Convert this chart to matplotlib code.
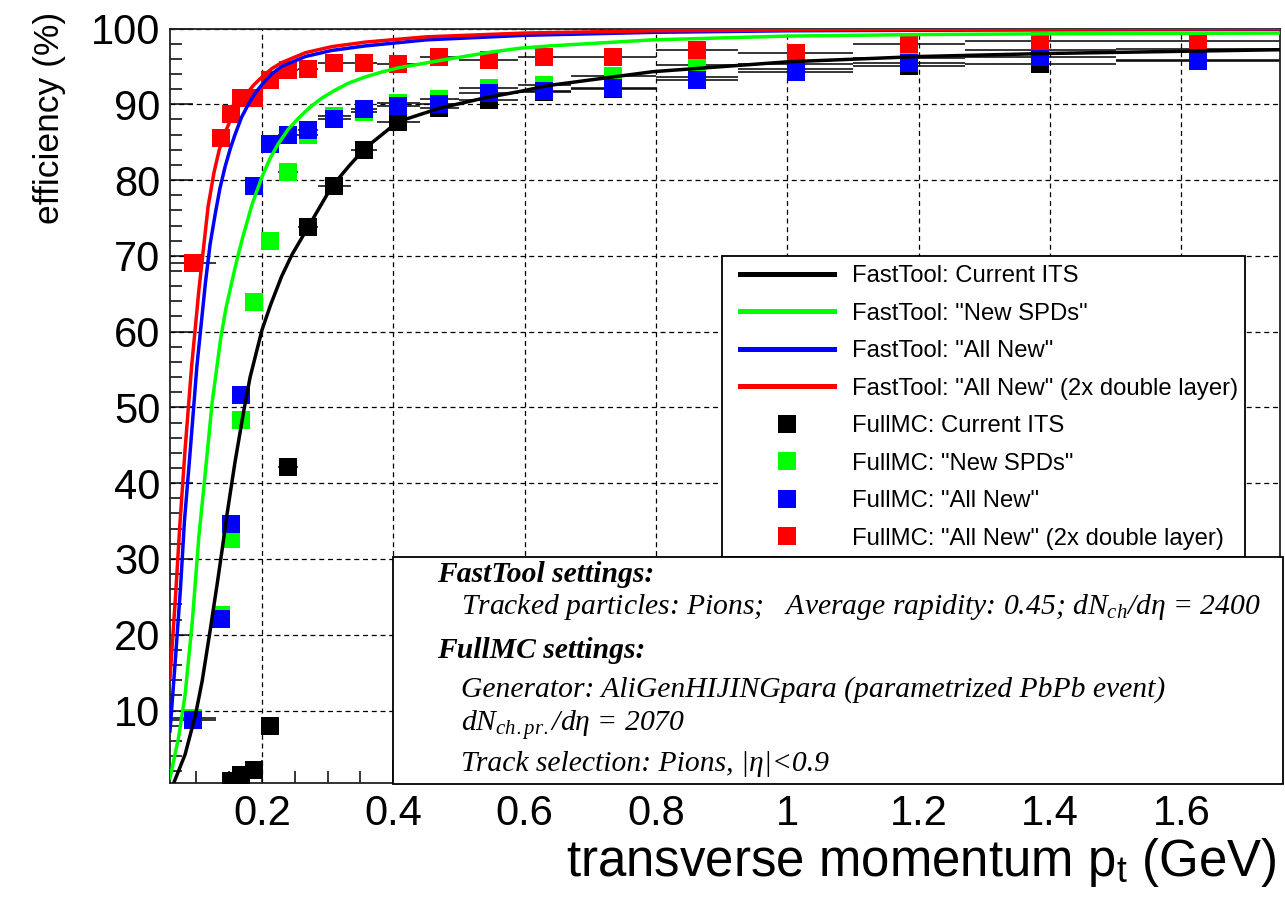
import numpy as np
import matplotlib
matplotlib.use("Agg")
import matplotlib.pyplot as plt
from matplotlib.lines import Line2D
from matplotlib.patches import Rectangle
from matplotlib.ticker import MultipleLocator, FixedLocator, FixedFormatter

plt.rcParams['font.family'] = ['Liberation Sans', 'DejaVu Sans']
plt.rcParams['mathtext.fontset'] = 'custom'
plt.rcParams['mathtext.rm'] = 'Liberation Sans'
plt.rcParams['mathtext.it'] = 'Liberation Serif:italic'
plt.rcParams['mathtext.bf'] = 'Liberation Serif:italic:bold'

# ---- FullMC: pt bins (GeV) and efficiencies (%) ----
bin_edges = [0.06, 0.13, 0.145, 0.16, 0.175, 0.2, 0.225, 0.255, 0.285, 0.335,
             0.375, 0.44, 0.5, 0.59, 0.67, 0.8, 0.925, 1.1, 1.27, 1.5, 1.75]

full_current = [np.nan, np.nan, 0.7, 1.5, 2.2, 8.0, 42.2, 73.8, 79.2, 84.0,
                87.7, 89.5, 90.5, 91.6, 92.0, 93.6, 94.6, 95.0, 95.3, 95.9]
full_newspd = [9.0, 22.6, 32.6, 48.4, 63.9, 71.9, 81.0, 86.0, 88.4, 89.0,
               90.2, 90.7, 92.1, 92.6, 93.7, 95.2, 95.3, 96.1, 97.2, 97.3]
full_allnew = [8.7, 22.1, 34.6, 51.7, 79.2, 84.8, 86.0, 86.6, 88.0, 89.4,
               89.8, 90.0, 91.5, 91.8, 92.2, 93.2, 94.3, 95.4, 96.2, 95.7]
full_double = [69.0, 85.5, 88.7, 90.8, 90.8, 93.2, 94.5, 94.6, 95.5, 95.5,
               95.3, 96.2, 95.9, 96.2, 96.2, 97.1, 96.8, 98.0, 98.4, 98.3]

# ---- FastTool: efficiency curves (pt in GeV, efficiency in %) ----
fast_current_pt = [0.066, 0.083, 0.099, 0.109, 0.121, 0.132, 0.139, 0.147, 0.159,
                   0.172, 0.182, 0.2, 0.213, 0.23, 0.246, 0.271, 0.306, 0.332,
                   0.357, 0.407, 0.471, 0.537, 0.593, 0.638, 0.795, 1.0, 1.2,
                   1.394, 1.75]
fast_current_eff = [0.5, 4.2, 9.5, 13.9, 20.5, 26.8, 31.0, 36.0, 42.8,
                    49.4, 54.0, 60.2, 63.5, 67.3, 70.2, 73.9, 79.1, 81.8,
                    84.2, 87.7, 89.5, 90.8, 91.7, 92.5, 94.3, 95.6, 96.3,
                    96.7, 97.2]

fast_newspd_pt = [0.06, 0.073, 0.083, 0.094, 0.104, 0.114, 0.124, 0.137, 0.145,
                  0.154, 0.162, 0.17, 0.185, 0.2, 0.212, 0.225, 0.24, 0.256,
                  0.273, 0.291, 0.31, 0.332, 0.357, 0.38, 0.407, 0.44, 0.486,
                  0.55, 0.593, 0.638, 0.795, 1.0, 1.2, 1.4, 1.75]
fast_newspd_eff = [1.1, 6.4, 12.1, 21.8, 33.0, 41.6, 50.5, 59.0, 63.0,
                   66.5, 69.5, 72.2, 76.8, 80.4, 82.8, 84.8, 86.7, 88.2,
                   89.6, 90.8, 91.8, 92.8, 93.6, 94.2, 94.8, 95.3, 96.0,
                   96.9, 97.4, 97.7, 98.5, 99.0, 99.2, 99.3, 99.4]

fast_allnew_pt = [0.06, 0.068, 0.076, 0.082, 0.091, 0.101, 0.114, 0.121, 0.129,
                  0.136, 0.144, 0.152, 0.159, 0.169, 0.18, 0.19, 0.2, 0.215,
                  0.23, 0.266, 0.306, 0.357, 0.45, 0.6, 0.8, 1.0, 1.3, 1.75]
fast_allnew_eff = [7.3, 16.5, 26.2, 35.0, 44.5, 55.5, 66.5, 71.5, 75.6,
                   78.9, 81.8, 84.2, 86.0, 88.3, 90.1, 91.5, 92.6, 94.0,
                   95.0, 96.3, 97.1, 97.7, 98.5, 99.1, 99.5, 99.7, 99.8, 99.9]

fast_double_pt = [0.06, 0.068, 0.075, 0.083, 0.093, 0.104, 0.118, 0.127, 0.135,
                  0.145, 0.154, 0.165, 0.175, 0.187, 0.2, 0.215, 0.23, 0.266,
                  0.306, 0.357, 0.45, 0.6, 0.8, 1.0, 1.3, 1.75]
fast_double_eff = [14.3, 24.5, 34.5, 44.5, 55.5, 65.5, 76.5, 81.0, 84.0,
                   86.5, 88.3, 90.0, 91.2, 92.5, 93.6, 94.7, 95.5, 96.8,
                   97.6, 98.2, 98.9, 99.4, 99.7, 99.8, 99.9, 99.95]

fast_labels = ['FastTool: Current ITS', 'FastTool: "New SPDs"',
               'FastTool: "All New"', 'FastTool: "All New" (2x double layer)']
full_labels = ['FullMC: Current ITS', 'FullMC: "New SPDs"',
               'FullMC: "All New"', 'FullMC: "All New" (2x double layer)']
colors = ['#000000', '#00ff00', '#0000ff', '#ff0000']

x_ticks = [0.2, 0.4, 0.6, 0.8, 1.0, 1.2, 1.4, 1.6]
x_ticklabels = ['0.2', '0.4', '0.6', '0.8', '1', '1.2', '1.4', '1.6']
y_ticks = [10, 20, 30, 40, 50, 60, 70, 80, 90, 100]

# ---- figure ----
W, H = 1285, 900
fig = plt.figure(figsize=(W / 100, H / 100), dpi=100)
ax = fig.add_axes([170 / W, 1 - 782.5 / H, 1110 / W, 754 / H])

edges = np.array(bin_edges)
centers = 0.5 * (edges[1:] + edges[:-1])
half = 0.5 * (edges[1:] - edges[:-1])

full_sets = [full_current, full_newspd, full_allnew, full_double]
fast_sets = [(fast_current_pt, fast_current_eff), (fast_newspd_pt, fast_newspd_eff),
             (fast_allnew_pt, fast_allnew_eff), (fast_double_pt, fast_double_eff)]

for vals in full_sets:
    ax.errorbar(centers, vals, xerr=half, fmt='none', ecolor='black',
                elinewidth=1.1, capsize=0, zorder=2)
for vals, c in zip(full_sets, colors):
    ax.plot(centers, vals, ls='none', marker='s', ms=12.5, color=c, mec=c,
            mew=0, zorder=3)
for (px, py), c in zip(fast_sets, colors):
    ax.plot(px, py, color=c, lw=2.5, zorder=4, solid_joinstyle='round')

ax.set_xlim(0.06, 1.75)
ax.set_ylim(0.5, 100)

ax.xaxis.set_major_locator(FixedLocator(x_ticks))
ax.xaxis.set_major_formatter(FixedFormatter(x_ticklabels))
ax.xaxis.set_minor_locator(MultipleLocator(0.05))
ax.yaxis.set_major_locator(FixedLocator(y_ticks))
ax.yaxis.set_minor_locator(MultipleLocator(2))

ax.tick_params(which='both', direction='in', top=False, right=False, width=1.1,
               labelsize=30, colors='black')
ax.tick_params(which='major', length=16.5)
ax.tick_params(which='minor', length=8.5)
ax.tick_params(axis='x', which='major', pad=8)
ax.tick_params(axis='y', which='major', pad=7)

ax.grid(True, which='major', color='black', lw=0.9, ls=(0, (4, 3)), zorder=1)
ax.set_axisbelow(True)
for s in ax.spines.values():
    s.set_linewidth(1.3)
    s.set_color('#222222')

ax.set_xlabel(r'transverse momentum p$_{\mathrm{t}}$ (GeV)', fontsize=36.7)
ax.xaxis.set_label_coords(0.997, -0.071)
ax.xaxis.label.set_horizontalalignment('right')
ax.xaxis.label.set_verticalalignment('top')

ax.set_ylabel('efficiency (%)', fontsize=25.5)
ax.yaxis.set_label_coords(-0.094, 1.022)
ax.yaxis.label.set_horizontalalignment('right')

# ---- legend ----
fig.add_artist(Rectangle((722 / W, 1 - 557 / H), (1245 - 722) / W, (557 - 256) / H,
                         transform=fig.transFigure, fc='white', ec='black',
                         lw=1.3, zorder=5))
handles = [Line2D([], [], color=c, lw=3.6) for c in colors]
handles += [Line2D([], [], ls='none', marker='s', ms=12.5, color=c, mew=0) for c in colors]
leg = fig.legend(handles, fast_labels + full_labels, loc='upper left',
                 bbox_to_anchor=(740 / W, 1 - 265 / H), bbox_transform=fig.transFigure,
                 fontsize=17.2, frameon=False, handlelength=3.94, handletextpad=0.75,
                 labelspacing=0.65, borderpad=0, borderaxespad=0)
leg.set_zorder(6)

# ---- settings box ----
fig.add_artist(Rectangle((393 / W, 1 - 784 / H), (1283 - 393) / W, (784 - 557) / H,
                         transform=fig.transFigure, fc='white', ec='black',
                         lw=1.3, zorder=7))
serif = dict(family=['Liberation Serif', 'DejaVu Serif'], style='italic',
             fontsize=21.3, va='center', ha='left', zorder=8,
             transform=fig.transFigure)
fig.text(437 / W, 1 - 575 / H, 'FastTool settings:', weight='bold', **serif)
fig.text(461 / W, 1 - 607 / H,
         'Tracked particles: Pions;   Average rapidity: 0.45; $dN_{ch}$/d\u03b7 = 2400',
         **serif)
fig.text(437 / W, 1 - 650 / H, 'FullMC settings:', weight='bold', **serif)
fig.text(461 / W, 1 - 690 / H,
         'Generator: AliGenHIJINGpara (parametrized PbPb event)', **serif)
fig.text(461 / W, 1 - 725 / H, '$dN_{ch.pr.}$/d\u03b7 = 2070', **serif)
fig.text(461 / W, 1 - 764 / H, 'Track selection: Pions, |\u03b7|<0.9', **serif)

fig.savefig('out.png', dpi=100, facecolor='white')
